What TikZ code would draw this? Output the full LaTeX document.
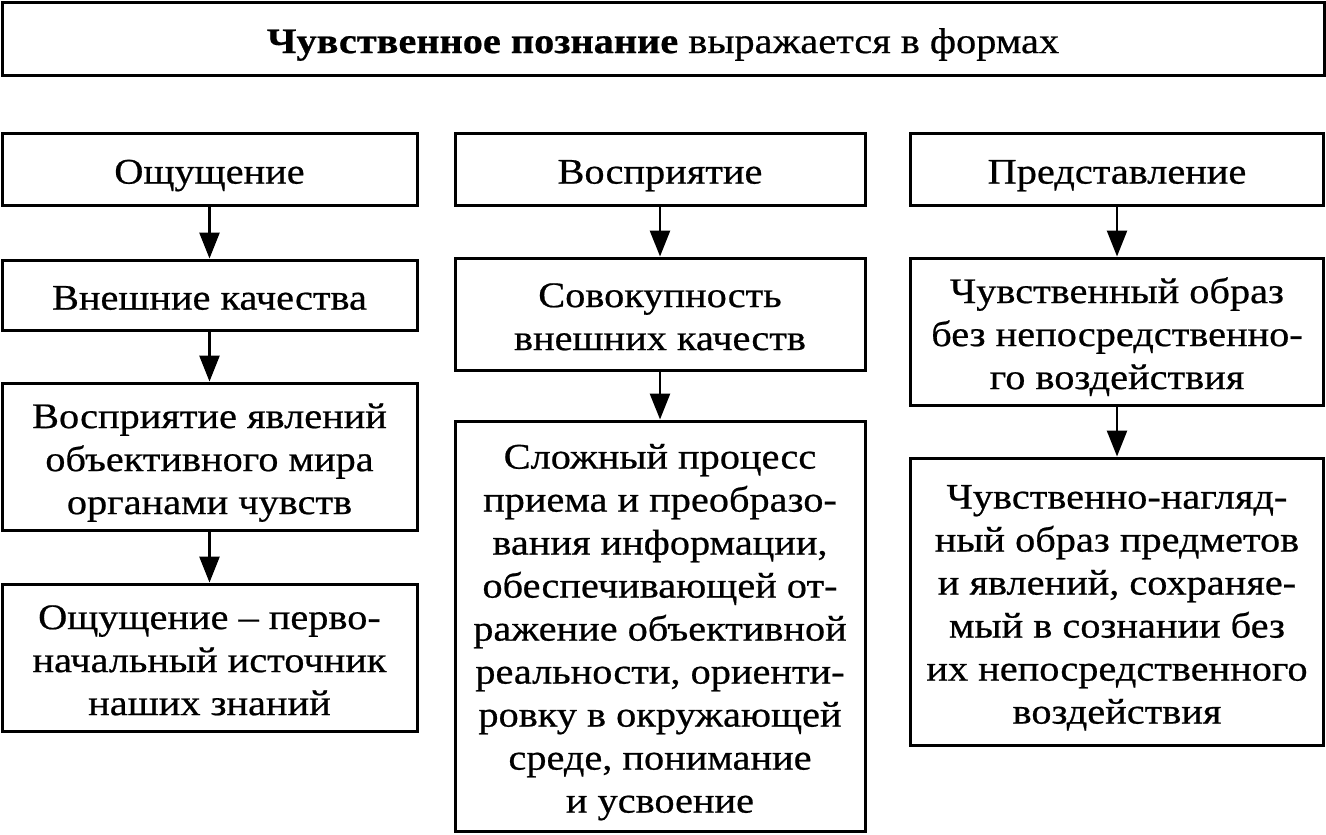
\documentclass[tikz,border=0pt]{standalone}
\usepackage{fontspec}
\setmainfont{Liberation Serif}[FakeStretch=1.12,FakeBold=0.6]
\usetikzlibrary{arrows.meta}
\newcommand{\boxtext}[1]{\raisebox{-6pt}[\height][\depth]{\begin{tabular}{@{}c@{}}#1\end{tabular}}}
\begin{document}
\begin{tikzpicture}[x=1pt,y=-1pt,
  box/.style={draw=black, line width=3pt, inner sep=0pt,
    font=\fontsize{36}{43}\selectfont},
  arr/.style={line width=2.6pt, -{Triangle[width=20pt,length=26pt]}}]
\useasboundingbox (0,0) rectangle (1326,835);
\node[box, minimum width=1322, minimum height=73] (t) at (663,38.5)
  {\boxtext{\textbf{Чувственное познание} выражается в формах}};
% column 1
\node[box, minimum width=415, minimum height=72] (a1) at (209.5,169) {\boxtext{Ощущение}};
\node[box, minimum width=415, minimum height=70] (a2) at (209.5,295) {\boxtext{Внешние качества}};
\node[box, minimum width=415, minimum height=147] (a3) at (209.5,456.5)
  {\boxtext{Восприятие явлений\\объективного мира\\органами чувств}};
\node[box, minimum width=415, minimum height=147] (a4) at (209.5,657.5)
  {\boxtext{Ощущение – перво-\\начальный источник\\наших знаний}};
% column 2
\node[box, minimum width=410, minimum height=72] (b1) at (660,169) {\boxtext{Восприятие}};
\node[box, minimum width=410, minimum height=112] (b2) at (660,314)
  {\boxtext{Совокупность\\внешних качеств}};
\node[box, minimum width=410, minimum height=410] (b3) at (660,626)
  {\boxtext{Сложный процесс\\приема и преобразо-\\вания информации,\\обеспечивающей от-\\ражение объективной\\реальности, ориенти-\\ровку в окружающей\\среде, понимание\\и усвоение}};
% column 3
\node[box, minimum width=413, minimum height=72] (c1) at (1117,169) {\boxtext{Представление}};
\node[box, minimum width=413, minimum height=147] (c2) at (1117,331.5)
  {\boxtext{Чувственный образ\\без непосредственно-\\го воздействия}};
\node[box, minimum width=413, minimum height=287] (c3) at (1117,601.5)
  {\boxtext{Чувственно-нагляд-\\ный образ предметов\\и явлений, сохраняе-\\мый в сознании без\\их непосредственного\\воздействия}};
% arrows
\draw[arr] (a1) -- (a2);
\draw[arr] (a2) -- (a3);
\draw[arr] (a3) -- (a4);
\draw[arr] (b1) -- (b2);
\draw[arr] (b2) -- (b3);
\draw[arr] (c1) -- (c2);
\draw[arr] (c2) -- (c3);
\end{tikzpicture}
\end{document}
